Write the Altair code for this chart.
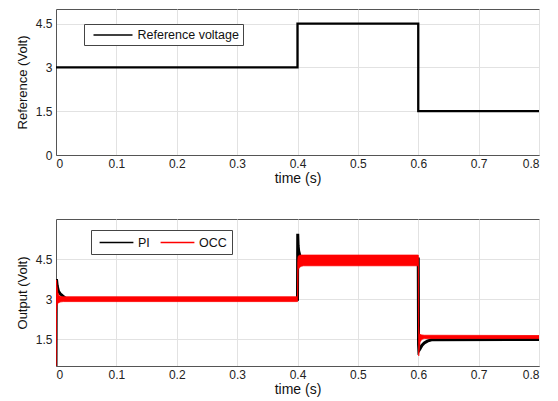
import altair as alt
import pandas as pd

FONT = "Liberation Sans"

# ---------------- data ----------------
x_ticks = [0, 0.1, 0.2, 0.3, 0.4, 0.5, 0.6, 0.7, 0.8]
y_ticks_top = [0, 1.5, 3, 4.5]
y_ticks_bot = [1.5, 3, 4.5]

# Reference voltage (step changes)
ref_t = [0.0, 0.4, 0.6, 0.8]
ref_v = [3.0, 4.5, 1.5, 1.5]

# PI output trace
pi_t = [0.0, 0.0004, 0.0008, 0.002, 0.004, 0.007, 0.011, 0.016, 0.4, 0.4, 0.4004,
        0.401, 0.402, 0.404, 0.408, 0.6, 0.6005, 0.601, 0.603, 0.606, 0.61, 0.615, 0.622, 0.8]
pi_v = [0.5, 3.2, 3.75, 3.5, 3.3, 3.2, 3.12, 3.03, 3.0, 3.05, 5.45,
        5.0, 4.8, 4.62, 4.52, 4.5, 1.3, 1.08, 1.15, 1.27, 1.36, 1.43, 1.48, 1.49]

# OCC output (switching ripple envelope)
occ_t = [0.000, 0.0003, 0.0008, 0.0015, 0.003, 0.005, 0.008, 0.012, 0.400, 0.4003,
         0.401, 0.403, 0.406, 0.410, 0.600, 0.6003, 0.6008, 0.6015, 0.603, 0.606, 0.610, 0.800]
occ_lo = [0.50, 1.20, 2.50, 2.75, 2.85, 2.88, 2.90, 2.91, 2.91, 3.00,
          4.10, 4.18, 4.23, 4.25, 4.25, 2.50, 0.88, 1.10, 1.40, 1.50, 1.53, 1.53]
occ_hi = [0.50, 3.50, 3.72, 3.50, 3.25, 3.13, 3.10, 3.09, 3.09, 4.40,
          4.60, 4.64, 4.65, 4.65, 4.65, 4.60, 2.00, 1.72, 1.68, 1.66, 1.65, 1.64]

# ---------------- frames ----------------
ref_df = pd.DataFrame({"t": ref_t, "v": ref_v, "series": "Reference voltage"})
pi_df = pd.DataFrame({"t": pi_t, "v": pi_v, "series": "PI", "i": range(len(pi_t))})
occ_df = pd.DataFrame({"t": occ_t, "lo": occ_lo, "hi": occ_hi, "series": "OCC"})

xscale = alt.Scale(domain=[0, 0.8], nice=False)
xaxis = alt.Axis(values=x_ticks, format=".1~f", title="time (s)")

top = alt.Chart(ref_df).mark_line(interpolate="step-after", strokeWidth=2.3, clip=True).encode(
    x=alt.X("t:Q", scale=xscale, axis=xaxis),
    y=alt.Y("v:Q", scale=alt.Scale(domain=[0, 5], nice=False),
            axis=alt.Axis(values=y_ticks_top, format=".1~f", title="Reference (Volt)")),
    stroke=alt.Stroke("series:N",
                      scale=alt.Scale(domain=["Reference voltage"], range=["#000000"]),
                      legend=alt.Legend(title=None, orient="none", legendX=28, legendY=15,
                                        symbolType="M-3,0H3", symbolSize=169,
                                        symbolStrokeWidth=1.5, symbolOffset=18,
                                        labelFont=FONT, labelFontSize=12.5, labelColor="#111",
                                        labelOffset=17, padding=3.5, strokeColor="#444",
                                        fillColor="white", cornerRadius=0)),
).properties(width=483, height=146)

colors = alt.Scale(domain=["PI", "OCC"], range=["#000000", "#ff0000"])
ybot = alt.Scale(domain=[0.5, 6], nice=False)
yaxis_b = alt.Axis(values=y_ticks_bot, format=".1~f", title="Output (Volt)")

pi_line = alt.Chart(pi_df).mark_line(strokeWidth=3, clip=True).encode(
    x=alt.X("t:Q", scale=xscale, axis=xaxis),
    y=alt.Y("v:Q", scale=ybot, axis=yaxis_b),
    order="i:Q",
    stroke=alt.Stroke("series:N", scale=colors,
                      legend=alt.Legend(title=None, orient="none", legendX=35, legendY=11,
                                        direction="horizontal", columnPadding=7,
                                        symbolType="M-2.6,0H2.6", symbolSize=169,
                                        symbolStrokeWidth=1.5, symbolOffset=13,
                                        labelFont=FONT, labelFontSize=12.5, labelColor="#111",
                                        labelOffset=14, padding=5, strokeColor="#444",
                                        fillColor="white", cornerRadius=0)),
)

occ_band = alt.Chart(occ_df).mark_area(clip=True, strokeWidth=0.8, opacity=1,
                                       orient="vertical", interpolate="linear").encode(
    x=alt.X("t:Q", scale=xscale),
    y=alt.Y("lo:Q", scale=ybot),
    y2="hi:Q",
    fill=alt.Fill("series:N", scale=colors, legend=None),
    stroke=alt.Stroke("series:N", scale=colors),
)

bottom = alt.layer(pi_line, occ_band).properties(width=483, height=147)

chart = alt.vconcat(top, bottom, spacing=32).resolve_scale(
    stroke="independent", fill="independent"
).resolve_legend(stroke="independent").properties(
    padding={"left": 7, "top": 0, "right": 5, "bottom": 5},
    background="white",
).configure_view(
    stroke="#555", strokeWidth=1
).configure_axis(
    labelFont=FONT, labelFontSize=12, labelColor="#222", labelPadding=4,
    titleFont=FONT, titleFontSize=13, titleColor="#111", titleFontWeight="normal",
    ticks=False, domainColor="#555", domainWidth=1,
    gridColor="#e2e2e2", gridWidth=1,
).configure_axisX(
    titleFontSize=14, labelPadding=3, titlePadding=2,
).configure_axisY(
    titlePadding=6,
)

chart.save("out.html", embed_options={"renderer": "svg", "actions": False})
